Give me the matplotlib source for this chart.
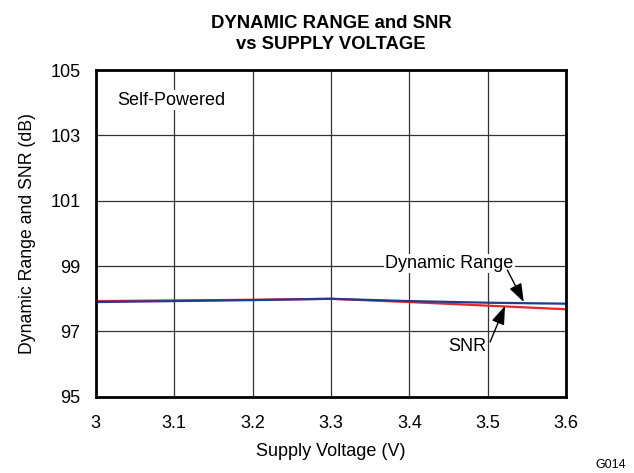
import matplotlib
matplotlib.use("Agg")
import matplotlib.pyplot as plt

plt.rcParams['font.family'] = ['Liberation Sans', 'DejaVu Sans']

voltage = [3.0, 3.1, 3.2, 3.3, 3.4, 3.5, 3.6]
dyn_range = [97.90, 97.93, 97.96, 98.00, 97.93, 97.88, 97.85]
snr = [97.93, 97.95, 97.97, 98.00, 97.90, 97.79, 97.68]

fig = plt.figure(figsize=(6.34, 4.73), dpi=100)
ax = fig.add_axes([0.151, 0.161, 0.742, 0.691])

ax.plot(voltage, snr, color='#e8242c', lw=1.6)
ax.plot(voltage, dyn_range, color='#1f3d8f', lw=1.6)

ax.set_xlim(3.0, 3.6)
ax.set_ylim(95, 105)
ax.set_xticks([3.0, 3.1, 3.2, 3.3, 3.4, 3.5, 3.6])
ax.set_xticklabels(['3', '3.1', '3.2', '3.3', '3.4', '3.5', '3.6'])
ax.set_yticks([95, 97, 99, 101, 103, 105])
ax.grid(True, color='#333333', lw=0.9)
ax.tick_params(length=0, labelsize=13)
ax.tick_params(axis='y', pad=11)
ax.tick_params(axis='x', pad=13)
for s in ax.spines.values():
    s.set_linewidth(2)

ax.set_xlabel('Supply Voltage (V)', fontsize=13, labelpad=8)
ax.set_ylabel('Dynamic Range and SNR (dB)', fontsize=12.7, labelpad=10)
ax.set_title('DYNAMIC RANGE and SNR\nvs SUPPLY VOLTAGE', fontsize=13.3,
             fontweight='bold', pad=15, linespacing=1.3)

ax.text(3.027, 104.08, 'Self-Powered', fontsize=13, ha='left', va='center',
        bbox=dict(facecolor='white', edgecolor='none', pad=1))

ax.text(3.451, 99.08, 'Dynamic Range', fontsize=13, ha='center', va='center',
        bbox=dict(facecolor='white', edgecolor='none', pad=1))
ax.text(3.474, 96.53, 'SNR', fontsize=13, ha='center', va='center')

arrow = dict(arrowstyle='-|>,head_length=0.7,head_width=0.25', color='black',
             lw=1, shrinkA=0, shrinkB=0, mutation_scale=16)
ax.annotate('', xy=(3.546, 97.90), xytext=(3.525, 98.88), arrowprops=arrow)
ax.annotate('', xy=(3.522, 97.78), xytext=(3.503, 96.68), arrowprops=arrow)

fig.text(0.987, 0.005, 'G014', fontsize=9, ha='right', va='bottom')

fig.savefig('out.png', dpi=100)
